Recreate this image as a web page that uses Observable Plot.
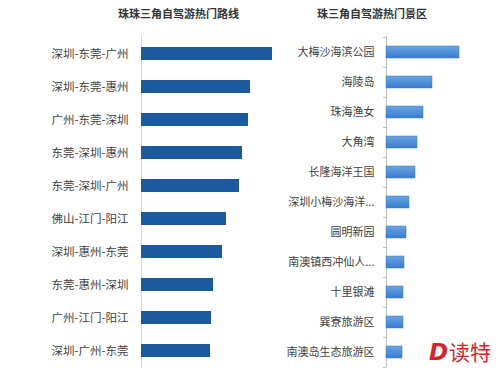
<!DOCTYPE html>
<html>
<head>
<meta charset="utf-8">
<script src="https://cdn.jsdelivr.net/npm/d3@7"></script>
<script src="https://cdn.jsdelivr.net/npm/@observablehq/plot@0.6"></script>
<style>
  html, body { margin: 0; padding: 0; background: #fff; }
  #wrap { position: relative; width: 500px; height: 373px; overflow: hidden; font-family: "Noto Sans CJK SC", sans-serif; }
  .title { position: absolute; top: 5px; font-size: 11px; font-weight: bold; color: #333; white-space: nowrap; }
  #left, #right { position: absolute; top: 0; }
  #left { left: 0; }
  #right { left: 280px; }
  #logo { position: absolute; left: 429px; top: 338px; font-size: 21px; color: #d6232a; white-space: nowrap; line-height: 26px; }
  #logo b { font-family: "DejaVu Sans", sans-serif; font-style: italic; font-weight: 900; font-size: 23px; margin-right: 1px; }
</style>
</head>
<body>
<div id="wrap">
  <div class="title" id="t1" style="left:118px;">珠珠三角自驾游热门路线</div>
  <div class="title" id="t2" style="left:317px;">珠三角自驾游热门景区</div>
  <div id="left"></div>
  <div id="right"></div>
  <div id="logo"><b>D</b>读特</div>
</div>
<script>
// Left panel: popular routes
const routes = ["深圳-东莞-广州", "深圳-东莞-惠州", "广州-东莞-深圳", "东莞-深圳-惠州", "东莞-深圳-广州",
                "佛山-江门-阳江", "深圳-惠州-东莞", "东莞-惠州-深圳", "广州-江门-阳江", "深圳-广州-东莞"];
const routeValues = [131, 109, 107, 101, 98, 85, 81, 72, 70, 69];

// Right panel: popular scenic spots
const spots = ["大梅沙海滨公园", "海陵岛", "珠海渔女", "大角湾", "长隆海洋王国", "深圳小梅沙海洋...",
               "圆明新园", "南澳镇西冲仙人...", "十里银滩", "巽寮旅游区", "南澳岛生态旅游区"];
const spotValues = [73, 46, 37, 31, 29, 23, 20, 18, 17, 17, 16];

const routeData = routes.map((name, i) => ({name, value: routeValues[i]}));
const spotData = spots.map((name, i) => ({name, value: spotValues[i]}));

const font = "Noto Sans CJK SC, sans-serif";

const left = Plot.plot({
  width: 280, height: 373,
  marginLeft: 141, marginRight: 0, marginTop: 35, marginBottom: 5,
  style: {fontFamily: font, background: "transparent", overflow: "visible"},
  x: {domain: [0, 139], axis: null},
  y: {domain: routes, paddingInner: 0.62, paddingOuter: 0.31, label: null},
  marks: [
    Plot.ruleX([0], {stroke: "#d9d9d9", strokeWidth: 1}),
    Plot.barX(routeData, {y: "name", x: "value", fill: "#1c5aa0"}),
    Plot.axisY({tickSize: 0, tickPadding: 13, fontSize: 11.5, fill: "#404040", label: null})
  ]
});
document.getElementById("left").appendChild(left);

const gradDefs = () => {
  const defs = d3.create("svg:defs");
  const g = defs.append("linearGradient").attr("id", "spotGrad").attr("x1", 0).attr("y1", 0).attr("x2", 0).attr("y2", 1);
  g.append("stop").attr("offset", "0%").attr("stop-color", "#6aa5e3");
  g.append("stop").attr("offset", "100%").attr("stop-color", "#3a7bcc");
  return defs.node();
};

const step = (373 - 36 - 6) / spots.length;

const right = Plot.plot({
  width: 220, height: 373,
  marginLeft: 106, marginRight: 4, marginTop: 36, marginBottom: 6,
  style: {fontFamily: font, background: "transparent", overflow: "visible"},
  x: {domain: [0, 110], axis: null},
  y: {domain: spots, paddingInner: 0.6, paddingOuter: 0.3, label: null},
  marks: [
    gradDefs,
    Plot.ruleX([0], {stroke: "#bfbfbf", strokeWidth: 1}),
    Plot.ruleY(spotData, {y: "name", x1: -3, x2: 0, dy: -step / 2, stroke: "#bfbfbf"}),
    Plot.ruleY(spotData.slice(-1), {y: "name", x1: -3, x2: 0, dy: step / 2, stroke: "#bfbfbf"}),
    Plot.barX(spotData, {y: "name", x: "value", fill: "url(#spotGrad)", stroke: "#3a78c4", strokeWidth: 0.5}),
    Plot.axisY({tickSize: 0, tickPadding: 12, fontSize: 11, fill: "#404040", label: null})
  ]
});
document.getElementById("right").appendChild(right);
</script>
</body>
</html>
